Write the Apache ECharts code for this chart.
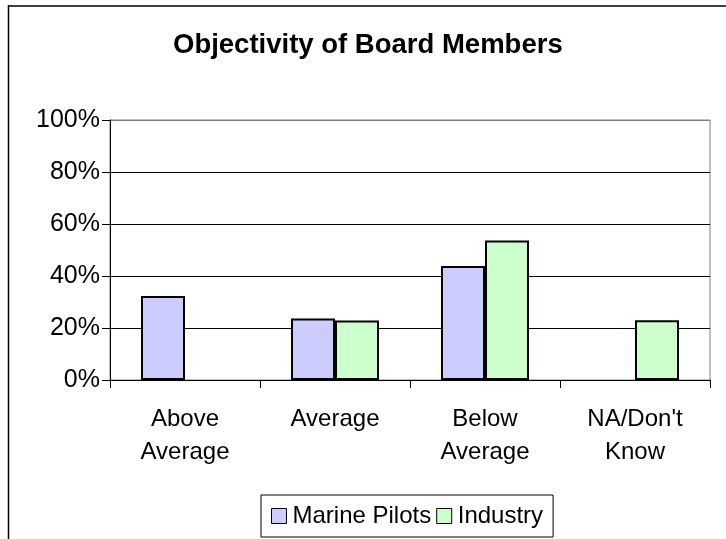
<!DOCTYPE html>
<html>
<head>
<meta charset="utf-8">
<title>Objectivity of Board Members</title>
<script src="https://cdn.jsdelivr.net/npm/echarts@6/dist/echarts.min.js"></script>
<style>
  html, body { margin: 0; padding: 0; background: #fff; }
  #chart { width: 726px; height: 539px; }
</style>
</head>
<body>
<div id="chart"></div>
<script>
// 数据
const categories = ['Above\nAverage', 'Average', 'Below\nAverage', "NA/Don't\nKnow"]
const marinePilots = [32.3, 23.7, 43.8, null]
const industry = [null, 22.9, 53.7, 23.0]
const seriesNames = ['Marine Pilots', 'Industry']
const yTicks = [0, 20, 40, 60, 80, 100]

const FONT = 'Liberation Sans, Arial, sans-serif'

const chart = echarts.init(document.getElementById('chart'))

function barSeries(name, data, color) {
  return {
    name,
    type: 'bar',
    data,
    barWidth: 44,
    barGap: 0,
    itemStyle: {
      color,
      borderColor: '#000',
      borderWidth: 2,
    },
  }
}

chart.setOption({
  animation: false,
  backgroundColor: '#fff',
  textStyle: { fontFamily: FONT },
  title: {
    text: 'Objectivity of Board Members',
    left: 173,
    top: 31,
    padding: 0,
    textStyle: {
      fontFamily: FONT,
      fontSize: 27.5,
      fontWeight: 'bold',
      color: '#000',
    },
  },
  legend: {
    data: seriesNames,
    left: 261,
    top: 495,
    padding: [9, 10, 9, 10],
    itemGap: 5,
    itemWidth: 15,
    itemHeight: 15,
    icon: 'rect',
    borderColor: '#000',
    borderWidth: 1,
    itemStyle: { borderColor: '#000', borderWidth: 1 },
    textStyle: { fontFamily: FONT, fontSize: 24, color: '#000', padding: [0, 0, 0, 1] },
  },
  grid: {
    left: 110,
    right: 16,
    top: 120,
    bottom: 159,
    show: true,
    borderColor: '#808080',
    borderWidth: 1,
  },
  xAxis: {
    type: 'category',
    data: categories,
    axisLine: { lineStyle: { color: '#000', width: 1 } },
    axisTick: { show: true, length: 8, alignWithLabel: false, lineStyle: { color: '#000' } },
    axisLabel: {
      interval: 0,
      margin: 23,
      fontFamily: FONT,
      fontSize: 24,
      lineHeight: 33,
      color: '#000',
    },
  },
  yAxis: {
    type: 'value',
    min: yTicks[0],
    max: yTicks[yTicks.length - 1],
    interval: 20,
    axisLine: { show: true, lineStyle: { color: '#000', width: 1 } },
    axisTick: { show: true, length: 8, lineStyle: { color: '#000' } },
    axisLabel: {
      margin: 10,
      fontFamily: FONT,
      fontSize: 25,
      color: '#000',
      formatter: '{value}%',
    },
    splitLine: {
      show: true,
      lineStyle: { color: ['#000', '#000', '#000', '#000', '#000', '#808080'], width: 1 },
    },
  },
  series: [
    barSeries(seriesNames[0], marinePilots, '#CCCCFF'),
    barSeries(seriesNames[1], industry, '#CCFFCC'),
  ],
  // 外框
  graphic: [
    { type: 'line', shape: { x1: 8, y1: 6, x2: 726, y2: 6 }, style: { stroke: '#404040', lineWidth: 2 } },
    { type: 'line', shape: { x1: 8.5, y1: 5, x2: 8.5, y2: 539 }, style: { stroke: '#000', lineWidth: 1.5 } },
  ],
})

window.addEventListener('resize', () => chart.resize())
</script>
</body>
</html>
